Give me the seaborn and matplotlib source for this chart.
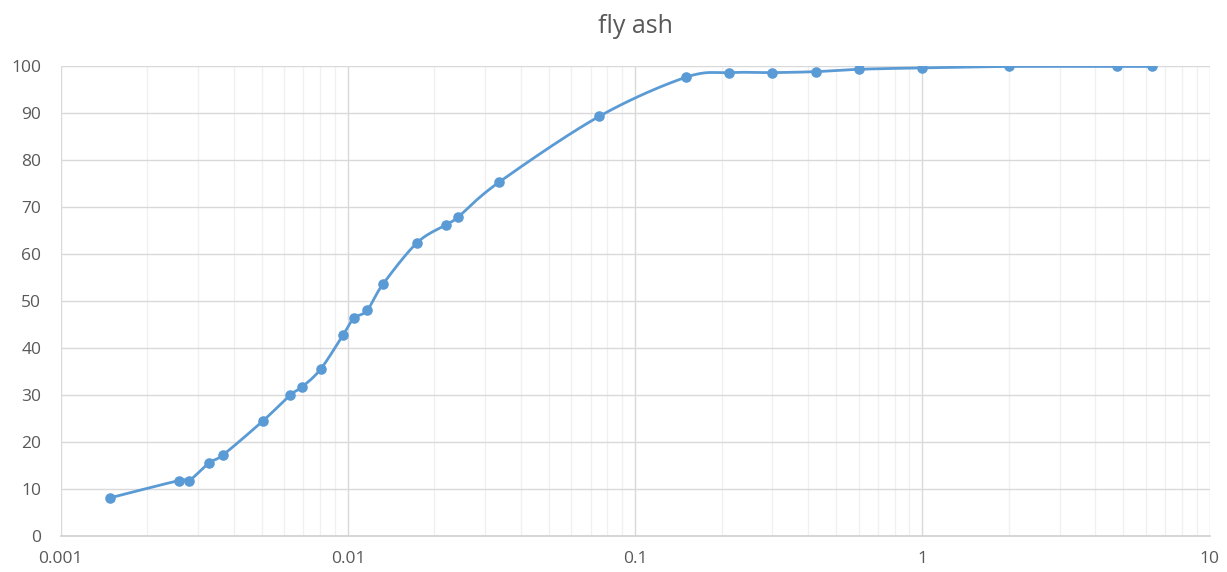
import numpy as np
import pandas as pd
import seaborn as sns
from matplotlib import pyplot as plt
from matplotlib.ticker import LogLocator, FixedLocator, FuncFormatter

# particle size (mm) and percent passing
size_mm = [0.00148, 0.00258, 0.0028, 0.00329, 0.00368, 0.00506, 0.0063, 0.00692,
           0.00803, 0.0096, 0.01047, 0.01165, 0.01324, 0.0174, 0.0219, 0.0242,
           0.0336, 0.075, 0.15, 0.212, 0.3, 0.425, 0.6, 1.0, 2.0, 4.75, 6.3]
passing = [8.1, 11.8, 11.8, 15.6, 17.3, 24.5, 30.0, 31.7, 35.5, 42.7, 46.3, 48.0,
           53.6, 62.4, 66.2, 67.9, 75.3, 89.3, 97.6, 98.6, 98.6, 98.8, 99.3, 99.6,
           99.9, 99.9, 99.9]
title = "fly ash"

BLUE = "#5B9BD5"
GREY_TXT = "#595959"


def smooth_curve(x, y, n=30):
    """Excel style smoothed line: Catmull-Rom through the points, done in log-x space."""
    lx = np.log10(x)
    y = np.asarray(y, dtype=float)
    px = np.concatenate([[lx[0]], lx, [lx[-1]]])
    py = np.concatenate([[y[0]], y, [y[-1]]])
    xs, ys = [], []
    t = np.linspace(0, 1, n)
    for i in range(1, len(px) - 2):
        p0x, p1x, p2x, p3x = px[i - 1:i + 3]
        p0y, p1y, p2y, p3y = py[i - 1:i + 3]
        # bezier control points
        c1x, c1y = p1x + (p2x - p0x) / 6, p1y + (p2y - p0y) / 6
        c2x, c2y = p2x - (p3x - p1x) / 6, p2y - (p3y - p1y) / 6
        b = [(1 - t) ** 3, 3 * (1 - t) ** 2 * t, 3 * (1 - t) * t ** 2, t ** 3]
        xs.append(b[0] * p1x + b[1] * c1x + b[2] * c2x + b[3] * p2x)
        ys.append(b[0] * p1y + b[1] * c1y + b[2] * c2y + b[3] * p2y)
    return 10 ** np.concatenate(xs), np.concatenate(ys)


sns.set_theme(style="white")
plt.rcParams['font.family'] = ['Open Sans', 'DejaVu Sans']

df = pd.DataFrame({"size": size_mm, "passing": passing})
cx, cy = smooth_curve(df["size"].values, df["passing"].values)
curve = pd.DataFrame({"size": cx, "passing": cy})

fig = plt.figure(figsize=(12.27, 5.72), dpi=100)
ax = fig.add_axes([0.0495, 0.0629, 0.9364, 0.8217])

sns.lineplot(data=curve, x="size", y="passing", ax=ax, color=BLUE, linewidth=2.0,
             sort=False, estimator=None, zorder=3)
sns.scatterplot(data=df, x="size", y="passing", ax=ax, color=BLUE, s=58,
                edgecolor=BLUE, linewidth=0, zorder=4)

ax.set_xscale("log")
ax.set_xlim(0.001, 10)
ax.set_ylim(0, 100)
ax.xaxis.set_major_locator(FixedLocator([0.001, 0.01, 0.1, 1, 10]))
ax.xaxis.set_major_formatter(FuncFormatter(lambda v, p: f"{v:g}"))
ax.xaxis.set_minor_locator(LogLocator(base=10, subs=np.arange(2, 10)))
ax.xaxis.set_minor_formatter(FuncFormatter(lambda v, p: ""))
ax.set_yticks(np.arange(0, 101, 10))

ax.grid(which="major", color="#D9D9D9", linewidth=1.0)
ax.grid(which="minor", axis="x", color="#F0F0F0", linewidth=1.0)
ax.set_axisbelow(True)
for s in ["top", "right", "left"]:
    ax.spines[s].set_visible(False)
ax.spines["bottom"].set_color("#D0D0D0")
ax.spines["bottom"].set_linewidth(1.2)

ax.tick_params(axis="both", which="both", length=0, labelsize=12.5, colors=GREY_TXT)
ax.tick_params(axis="x", pad=11)
ax.tick_params(axis="y", pad=14)
ax.set_xlabel("")
ax.set_ylabel("")
ax.set_title(title, fontsize=18, color=GREY_TXT, pad=24)

plt.savefig("out.png", dpi=100)
